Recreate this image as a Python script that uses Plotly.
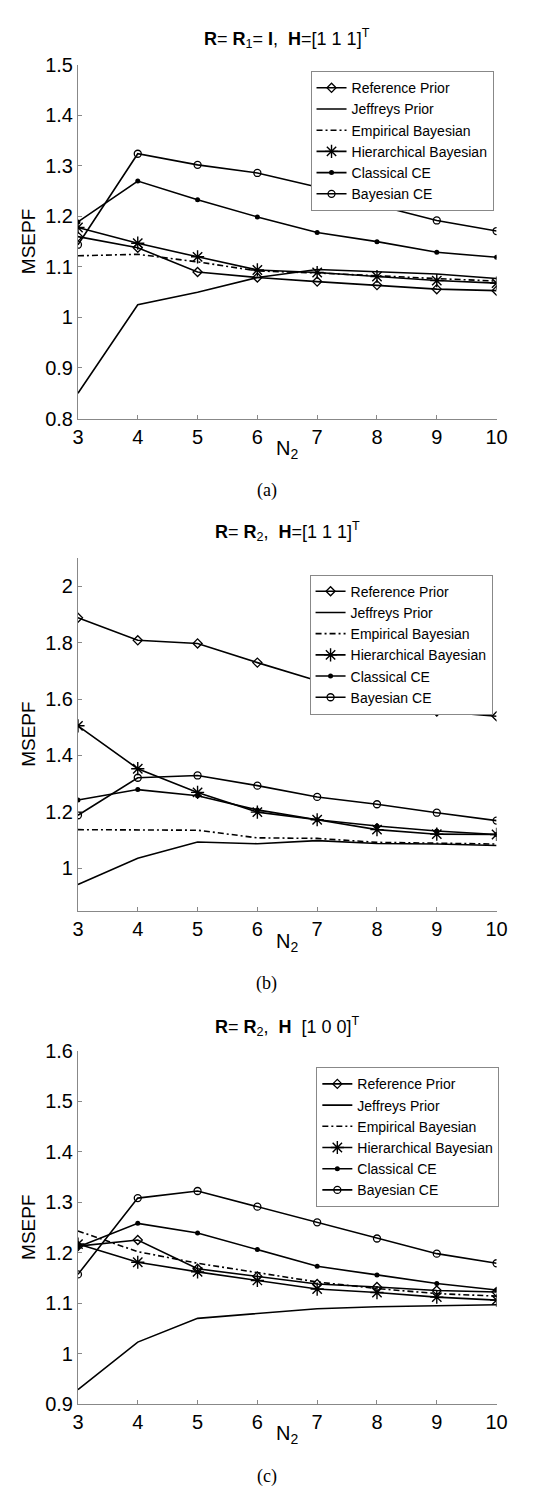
import plotly.graph_objects as go

W, H = 549, 1490
N2 = [3, 4, 5, 6, 7, 8, 9, 10]
names = ["Reference Prior", "Jeffreys Prior", "Empirical Bayesian",
         "Hierarchical Bayesian", "Classical CE", "Bayesian CE"]

# panel (a)
a_ref = [1.160, 1.138, 1.090, 1.079, 1.071, 1.064, 1.056, 1.053]
a_jef = [0.850, 1.025, 1.050, 1.079, 1.095, 1.090, 1.086, 1.077]
a_emp = [1.122, 1.125, 1.110, 1.092, 1.088, 1.082, 1.077, 1.072]
a_hier = [1.178, 1.147, 1.120, 1.094, 1.089, 1.081, 1.073, 1.068]
a_cce = [1.189, 1.270, 1.233, 1.199, 1.168, 1.150, 1.129, 1.119]
a_bce = [1.144, 1.324, 1.302, 1.286, 1.258, 1.222, 1.192, 1.171]

# panel (b)
b_ref = [1.888, 1.808, 1.797, 1.729, 1.665, 1.610, 1.556, 1.539]
b_jef = [0.943, 1.036, 1.093, 1.087, 1.098, 1.088, 1.086, 1.081]
b_emp = [1.137, 1.135, 1.135, 1.108, 1.106, 1.092, 1.088, 1.086]
b_hier = [1.505, 1.353, 1.269, 1.199, 1.172, 1.137, 1.121, 1.120]
b_cce = [1.242, 1.279, 1.257, 1.207, 1.172, 1.150, 1.132, 1.120]
b_bce = [1.188, 1.321, 1.329, 1.293, 1.253, 1.227, 1.197, 1.169]

# panel (c)
c_ref = [1.213, 1.225, 1.168, 1.153, 1.138, 1.132, 1.125, 1.122]
c_jef = [0.929, 1.023, 1.070, 1.080, 1.089, 1.093, 1.095, 1.097]
c_emp = [1.243, 1.202, 1.179, 1.160, 1.142, 1.129, 1.119, 1.114]
c_hier = [1.217, 1.181, 1.162, 1.145, 1.128, 1.121, 1.112, 1.106]
c_cce = [1.211, 1.258, 1.239, 1.206, 1.173, 1.156, 1.139, 1.126]
c_bce = [1.157, 1.308, 1.322, 1.291, 1.260, 1.228, 1.198, 1.179]

a_yticks = [0.8, 0.9, 1.0, 1.1, 1.2, 1.3, 1.4, 1.5]
a_ytext = ["0.8", "0.9", "1", "1.1", "1.2", "1.3", "1.4", "1.5"]
b_yticks = [1.0, 1.2, 1.4, 1.6, 1.8, 2.0]
b_ytext = ["1", "1.2", "1.4", "1.6", "1.8", "2"]
c_yticks = [0.9, 1.0, 1.1, 1.2, 1.3, 1.4, 1.5, 1.6]
c_ytext = ["0.9", "1", "1.1", "1.2", "1.3", "1.4", "1.5", "1.6"]

titles = [
    "<b>R</b>= <b>R</b><sub>1</sub>= <b>I</b>,&nbsp; <b>H</b>=[1 1 1]<sup>T</sup>",
    "<b>R</b>= <b>R</b><sub>2</sub>,&nbsp; <b>H</b>=[1 1 1]<sup>T</sup>",
    "<b>R</b>= <b>R</b><sub>2</sub>,&nbsp; <b>H</b>&nbsp; [1 0 0]<sup>T</sup>",
]
captions = ["(a)", "(b)", "(c)"]

FONT = "Liberation Sans, Arial, Helvetica, sans-serif"


def py(p):
    return 1 - p / H


def px(p):
    return p / W


panels = [
    dict(data=[a_ref, a_jef, a_emp, a_hier, a_cce, a_bce], top=46.5, bot=405.5,
         yr=[0.8, 1.5], yt=a_yticks, ytt=a_ytext, leg=(306, 53),
         title_y=20, cap_y=479, n_y=437),
    dict(data=[b_ref, b_jef, b_emp, b_hier, b_cce, b_bce], top=547, bot=905,
         yr=[0.85, 2.1], yt=b_yticks, ytt=b_ytext, leg=(305, 564),
         title_y=520, cap_y=979, n_y=937),
    dict(data=[c_ref, c_jef, c_emp, c_hier, c_cce, c_bce], top=1047, bot=1406,
         yr=[0.9, 1.6], yt=c_yticks, ytt=c_ytext, leg=(312, 1064),
         title_y=1023, cap_y=1479, n_y=1437),
]

styles = [
    dict(mode="lines+markers", marker=dict(symbol="diamond-open", size=7, color="black",
                                           line=dict(width=1.3, color="black")),
         line=dict(color="black", width=1.6)),
    dict(mode="lines", line=dict(color="black", width=1.6)),
    dict(mode="lines", line=dict(color="black", width=1.6, dash="6px,3px,2px,3px")),
    dict(mode="lines+markers", marker=dict(symbol="asterisk-open", size=11, color="black",
                                           line=dict(width=1.4, color="black")),
         line=dict(color="black", width=1.6)),
    dict(mode="lines+markers", marker=dict(symbol="circle", size=5, color="black"),
         line=dict(color="black", width=1.6)),
    dict(mode="lines+markers", marker=dict(symbol="circle-open", size=7, color="black",
                                           line=dict(width=1.3, color="black")),
         line=dict(color="black", width=1.6)),
]

fig = go.Figure()
X0, X1 = 66, 498
annotations = []
layout = dict(width=W, height=H, margin=dict(l=0, r=0, t=0, b=0),
              paper_bgcolor="white", plot_bgcolor="white",
              font=dict(family=FONT, color="black"), showlegend=True)

for i, p in enumerate(panels):
    k = "" if i == 0 else str(i + 1)
    legname = "legend" + k
    for j, (nm, st) in enumerate(zip(names, styles)):
        fig.add_trace(go.Scatter(x=N2, y=p["data"][j], name=nm, xaxis="x" + k,
                                 yaxis="y" + k, legend=legname, **st))
    layout["xaxis" + k] = dict(
        domain=[px(X0), px(X1)], anchor="y" + k, range=[3, 10],
        tickvals=N2, ticktext=[str(v) for v in N2], ticks="inside", ticklen=4,
        tickcolor="#888", showline=True, linecolor="#888", linewidth=1,
        showgrid=False, zeroline=False, tickfont=dict(size=20, family=FONT),
        fixedrange=True)
    layout["yaxis" + k] = dict(
        domain=[py(p["bot"]), py(p["top"])], anchor="x" + k, range=p["yr"],
        tickvals=p["yt"], ticktext=p["ytt"], ticks="inside", ticklen=4,
        tickcolor="#888", showline=True, linecolor="#888", linewidth=1,
        showgrid=False, zeroline=False, tickfont=dict(size=20, family=FONT),
        fixedrange=True)
    layout[legname] = dict(
        x=px(p["leg"][0]), y=py(p["leg"][1]), xanchor="left", yanchor="top",
        xref="paper", yref="paper", bgcolor="white", bordercolor="#888",
        borderwidth=1, font=dict(size=14, family=FONT), itemwidth=30,
        tracegroupgap=0, traceorder="normal")
    annotations.append(dict(text=titles[i], x=px((X0 + X1) / 2), y=py(p["title_y"]),
                            xref="paper", yref="paper", showarrow=False,
                            font=dict(size=18, family=FONT), xanchor="center",
                            yanchor="middle"))
    annotations.append(dict(text=captions[i], x=px(261), y=py(p["cap_y"]),
                            xref="paper", yref="paper", showarrow=False,
                            font=dict(size=18, family="Liberation Serif, Times New Roman, serif"),
                            xanchor="center", yanchor="middle"))
    annotations.append(dict(text="N<sub>2</sub>", x=px(282), y=py(p["n_y"]),
                            xref="paper", yref="paper", showarrow=False,
                            font=dict(size=20, family=FONT), xanchor="center",
                            yanchor="middle"))
    annotations.append(dict(text="MSEPF", x=px(15), y=py((p["top"] + p["bot"]) / 2),
                            xref="paper", yref="paper", showarrow=False, textangle=-90,
                            font=dict(size=19, family=FONT), xanchor="center",
                            yanchor="middle"))

layout["annotations"] = annotations
fig.update_layout(**layout)
fig.write_html("out.html")
